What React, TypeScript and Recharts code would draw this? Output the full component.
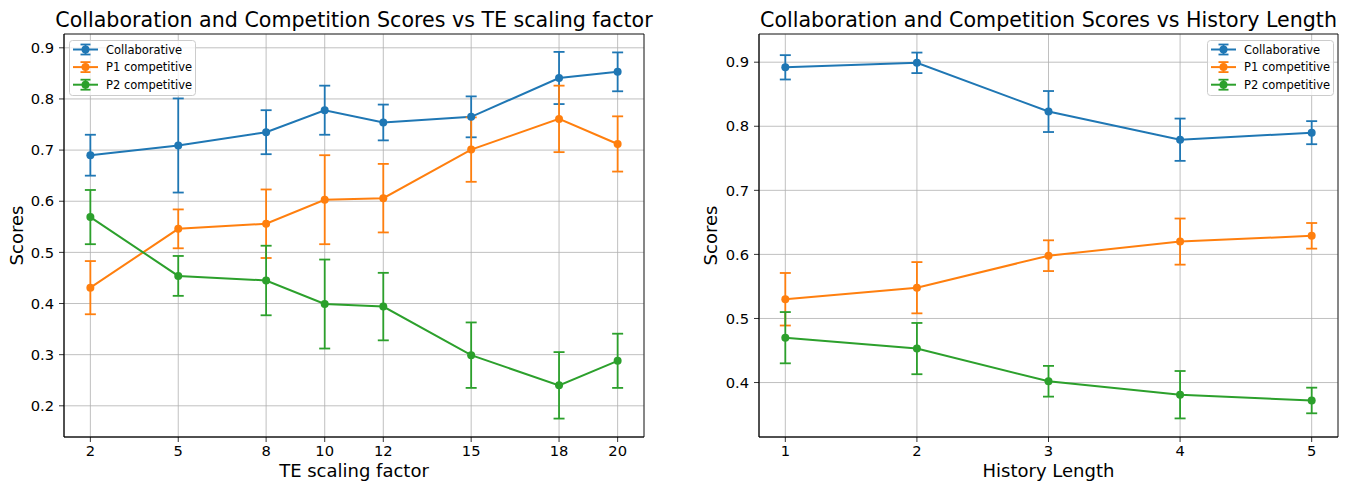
import React from 'react';
import {
  LineChart,
  Line,
  XAxis,
  YAxis,
  CartesianGrid,
  ErrorBar,
  ReferenceArea,
  Legend,
} from 'recharts';

// ---------- data ----------
const seriesNames = ['Collaborative', 'P1 competitive', 'P2 competitive'];
const seriesColors = ['#1f77b4', '#ff7f0e', '#2ca02c'];

const teFactors = [2, 5, 8, 10, 12, 15, 18, 20];
const teCollab = [0.69, 0.709, 0.735, 0.778, 0.754, 0.765, 0.841, 0.853];
const teCollabErr = [0.04, 0.092, 0.043, 0.048, 0.035, 0.04, 0.051, 0.038];
const teP1 = [0.431, 0.546, 0.556, 0.603, 0.606, 0.701, 0.761, 0.712];
const teP1Err = [0.052, 0.038, 0.067, 0.087, 0.067, 0.063, 0.065, 0.054];
const teP2 = [0.569, 0.454, 0.445, 0.399, 0.394, 0.299, 0.24, 0.288];
const teP2Err = [0.053, 0.039, 0.068, 0.087, 0.066, 0.064, 0.065, 0.053];

const histLen = [1, 2, 3, 4, 5];
const hCollab = [0.892, 0.899, 0.823, 0.779, 0.79];
const hCollabErr = [0.019, 0.016, 0.032, 0.033, 0.018];
const hP1 = [0.53, 0.548, 0.598, 0.62, 0.629];
const hP1Err = [0.041, 0.04, 0.024, 0.036, 0.02];
const hP2 = [0.47, 0.453, 0.402, 0.381, 0.372];
const hP2Err = [0.04, 0.04, 0.024, 0.037, 0.02];

const teYTicks = [0.2, 0.3, 0.4, 0.5, 0.6, 0.7, 0.8, 0.9];
const hYTicks = [0.4, 0.5, 0.6, 0.7, 0.8, 0.9];

const titles = [
  'Collaboration and Competition Scores vs TE scaling factor',
  'Collaboration and Competition Scores vs History Length',
];
const xLabels = ['TE scaling factor', 'History Length'];
const yLabel = 'Scores';

// ---------- tables ----------
const teData = teFactors.map((x, i) => ({
  x,
  s0: teCollab[i],
  e0: teCollabErr[i],
  s1: teP1[i],
  e1: teP1Err[i],
  s2: teP2[i],
  e2: teP2Err[i],
}));
const hData = histLen.map((x, i) => ({
  x,
  s0: hCollab[i],
  e0: hCollabErr[i],
  s1: hP1[i],
  e1: hP1Err[i],
  s2: hP2[i],
  e2: hP2Err[i],
}));

const FONT = '"DejaVu Sans", sans-serif';
const W = 674;
const H = 482;
const TICK_FS = 14.7;
const TITLE_FS = 20.6;
const LABEL_FS = 18;
const LEGEND_FS = 11.5;

const LegendBox = () => (
  <svg width={128} height={57} style={{ display: 'block' }}>
    <rect x={0.5} y={0.5} width={126} height={55} rx={3} ry={3} fill="rgba(255,255,255,0.8)" stroke="#cccccc" strokeWidth={1} />
    {seriesNames.map((name, i) => {
      const cy = 9.5 + i * 17.6;
      const c = seriesColors[i];
      return (
        <g key={name}>
          <line x1={4} x2={29} y1={cy} y2={cy} stroke={c} strokeWidth={2} />
          <line x1={16.5} x2={16.5} y1={cy - 5} y2={cy + 5} stroke={c} strokeWidth={1.8} />
          <line x1={11.5} x2={21.5} y1={cy - 5} y2={cy - 5} stroke={c} strokeWidth={1.8} />
          <line x1={11.5} x2={21.5} y1={cy + 5} y2={cy + 5} stroke={c} strokeWidth={1.8} />
          <circle cx={16.5} cy={cy} r={4} fill={c} />
          <text x={37} y={cy + 4.2} fontSize={LEGEND_FS} fontFamily={FONT} fill="#000">
            {name}
          </text>
        </g>
      );
    })}
  </svg>
);

type PanelProps = {
  data: any[];
  xDomain: [number, number];
  xTicks: number[];
  yDomain: [number, number];
  yTicks: number[];
  yAxisWidth: number;
  rightMargin: number;
  legendLeft: number;
};

const Panel = ({ data, xDomain, xTicks, yDomain, yTicks, yAxisWidth, rightMargin, legendLeft }: PanelProps) => (
  <LineChart
    width={W}
    height={H}
    data={data}
    margin={{ top: 34, right: rightMargin, bottom: 0, left: 0 }}
    style={{ fontFamily: FONT }}
  >
    <CartesianGrid stroke="#b0b0b0" strokeWidth={0.8} />
    <XAxis
      dataKey="x"
      type="number"
      domain={xDomain}
      ticks={xTicks}
      allowDataOverflow
      height={45}
      tickSize={5}
      tickMargin={4}
      axisLine={{ stroke: '#000', strokeWidth: 0.8 }}
      tickLine={{ stroke: '#000', strokeWidth: 0.8 }}
      tick={{ fill: '#000', fontSize: TICK_FS, fontFamily: FONT }}
      interval={0}
    />
    <YAxis
      type="number"
      domain={yDomain}
      ticks={yTicks}
      allowDataOverflow
      width={yAxisWidth}
      tickSize={5}
      tickMargin={5}
      axisLine={{ stroke: '#000', strokeWidth: 0.8 }}
      tickLine={{ stroke: '#000', strokeWidth: 0.8 }}
      tick={{ fill: '#000', fontSize: TICK_FS, fontFamily: FONT }}
      tickFormatter={(v: number) => v.toFixed(1)}
      interval={0}
    />
    <ReferenceArea
      x1={xDomain[0]}
      x2={xDomain[1]}
      y1={yDomain[0]}
      y2={yDomain[1]}
      fill="none"
      fillOpacity={0}
      stroke="#000"
      strokeWidth={0.8}
      ifOverflow="visible"
    />
    {seriesNames.map((name, i) => (
      <Line
        key={name}
        name={name}
        dataKey={`s${i}`}
        stroke={seriesColors[i]}
        strokeWidth={2}
        type="linear"
        dot={{ r: 4, fill: seriesColors[i], stroke: seriesColors[i], strokeWidth: 0 }}
        activeDot={false}
        isAnimationActive={false}
      >
        <ErrorBar dataKey={`e${i}`} width={5.5} strokeWidth={1.8} stroke={seriesColors[i]} isAnimationActive={false} />
      </Line>
    ))}
    <Legend
      layout="vertical"
      align="center"
      verticalAlign="middle"
      content={() => <LegendBox />}
      wrapperStyle={{ position: 'absolute', top: 40, left: legendLeft, width: 128, height: 57, margin: 0, padding: 0 }}
    />
  </LineChart>
);

export default function App() {
  return (
    <div style={{ position: 'absolute', left: 0, top: 0, width: 1348, height: 482, background: '#fff', fontFamily: FONT }}>
      <div style={{ position: 'absolute', left: 0, top: 0 }}>
        <Panel
          data={teData}
          xDomain={[1.1, 20.9]}
          xTicks={teFactors}
          yDomain={[0.139, 0.927]}
          yTicks={teYTicks}
          yAxisWidth={64}
          rightMargin={30}
          legendLeft={69}
        />
      </div>
      <div style={{ position: 'absolute', left: W, top: 0 }}>
        <Panel
          data={hData}
          xDomain={[0.8, 5.2]}
          xTicks={histLen}
          yDomain={[0.315, 0.944]}
          yTicks={hYTicks}
          yAxisWidth={85}
          rightMargin={10}
          legendLeft={533}
        />
      </div>
      <svg
        width={1348}
        height={482}
        style={{ position: 'absolute', left: 0, top: 0, pointerEvents: 'none' }}
      >
        <text x={354} y={27} textAnchor="middle" fontSize={TITLE_FS} fontFamily={FONT} fill="#000">
          {titles[0]}
        </text>
        <text x={1048.5} y={27} textAnchor="middle" fontSize={TITLE_FS} fontFamily={FONT} fill="#000">
          {titles[1]}
        </text>
        <text x={354} y={477} textAnchor="middle" fontSize={LABEL_FS} fontFamily={FONT} fill="#000">
          {xLabels[0]}
        </text>
        <text x={1048.5} y={477} textAnchor="middle" fontSize={LABEL_FS} fontFamily={FONT} fill="#000">
          {xLabels[1]}
        </text>
        <text
          x={23}
          y={235.5}
          textAnchor="middle"
          fontSize={LABEL_FS}
          fontFamily={FONT}
          fill="#000"
          transform="rotate(-90 23 235.5)"
        >
          {yLabel}
        </text>
        <text
          x={717}
          y={235.5}
          textAnchor="middle"
          fontSize={LABEL_FS}
          fontFamily={FONT}
          fill="#000"
          transform="rotate(-90 717 235.5)"
        >
          {yLabel}
        </text>
      </svg>
    </div>
  );
}
